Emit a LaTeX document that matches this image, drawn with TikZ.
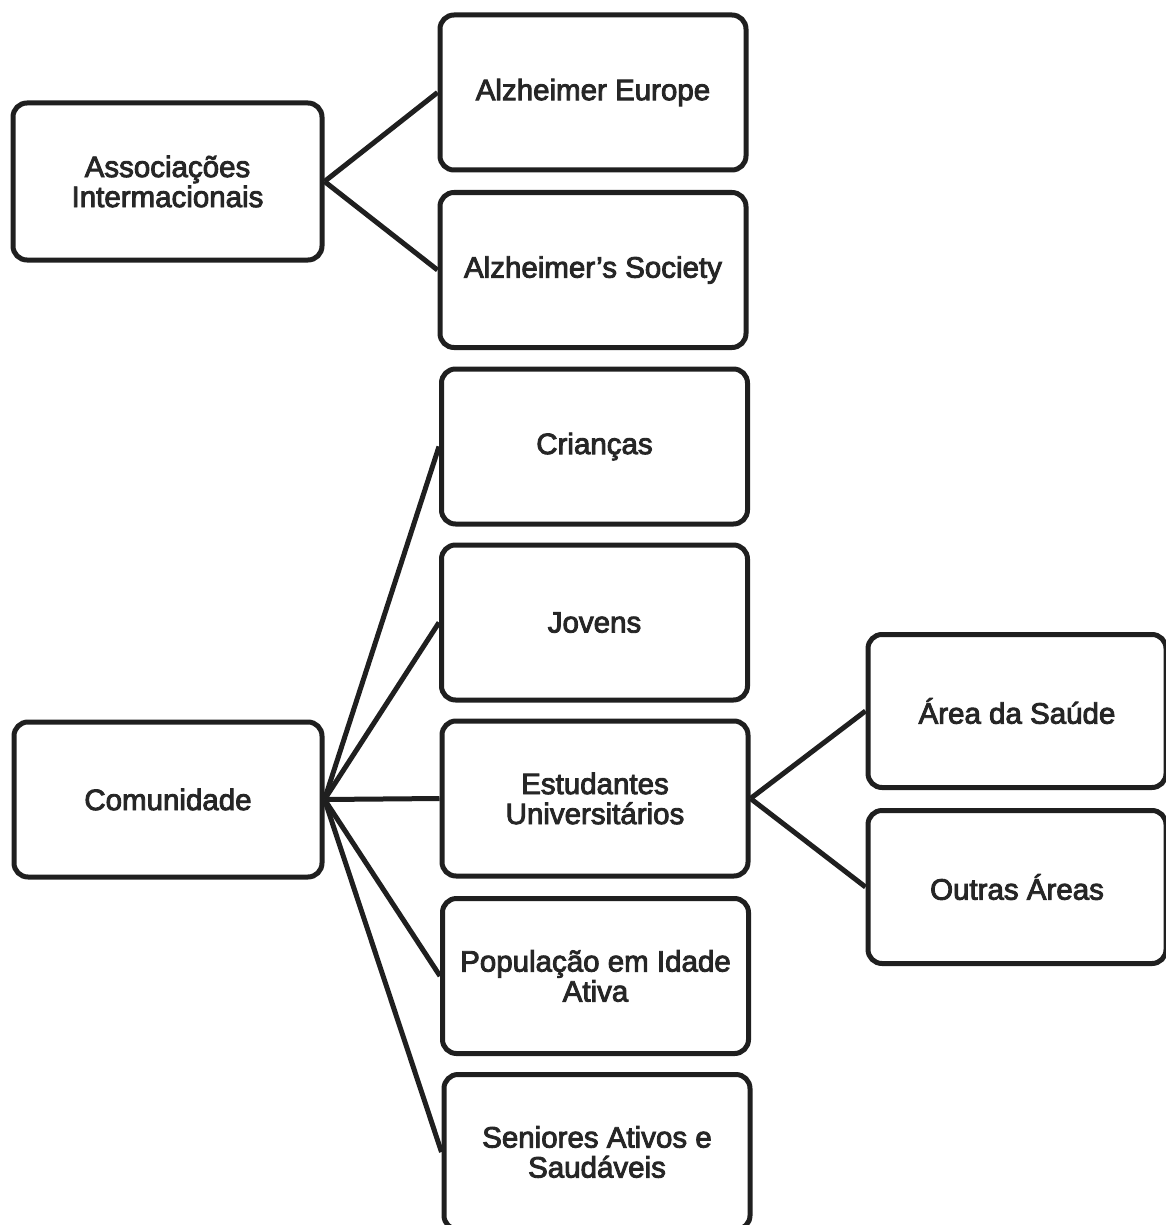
\documentclass[tikz,border=0pt]{standalone}
\usepackage{fontspec}
\newfontfamily\boxfont{Liberation Sans}[FakeBold=3]
\begin{document}
\begin{tikzpicture}[x=1pt,y=-1pt,
  box/.style={draw=black!88, fill=white, line width=5pt, rounded corners=14pt,
    minimum width=306pt, minimum height=155pt, align=center,
    font=\boxfont\fontsize{29.5}{30}\selectfont, text=black!85, inner sep=0pt},
  link/.style={draw=black!88, line width=5pt}]
\useasboundingbox (0,0) rectangle (1165,1225);
% nodes
\node[box, minimum width=309pt, minimum height=157pt] (assoc) at (167.5,181.5) {Associações\\Intermacionais};
\node[box] (alzE) at (593,92.5) {Alzheimer Europe};
\node[box] (alzS) at (593,270) {Alzheimer’s Society};
\node[box] (crian) at (594.5,446.5) {Crianças};
\node[box] (jov) at (594.5,622.5) {Jovens};
\node[box] (estud) at (595,798.5) {Estudantes\\Universitários};
\node[box] (popul) at (595.5,976) {População em Idade\\Ativa};
\node[box] (senior) at (597,1152) {Seniores Ativos e\\Saudáveis};
\node[box, minimum width=308pt] (comun) at (168,799.5) {Comunidade};
\node[box, minimum width=298pt, minimum height=153pt] (area) at (1017,711) {Área da Saúde};
\node[box, minimum width=298pt, minimum height=153pt] (outras) at (1017,887) {Outras Áreas};
% connectors
\draw[link] (assoc.east) -- (alzE.west);
\draw[link] (assoc.east) -- (alzS.west);
\draw[link] (comun.east) -- (crian.west);
\draw[link] (comun.east) -- (jov.west);
\draw[link] (comun.east) -- (estud.west);
\draw[link] (comun.east) -- (popul.west);
\draw[link] (comun.east) -- (senior.west);
\draw[link] (estud.east) -- (area.west);
\draw[link] (estud.east) -- (outras.west);
\end{tikzpicture}
\end{document}
